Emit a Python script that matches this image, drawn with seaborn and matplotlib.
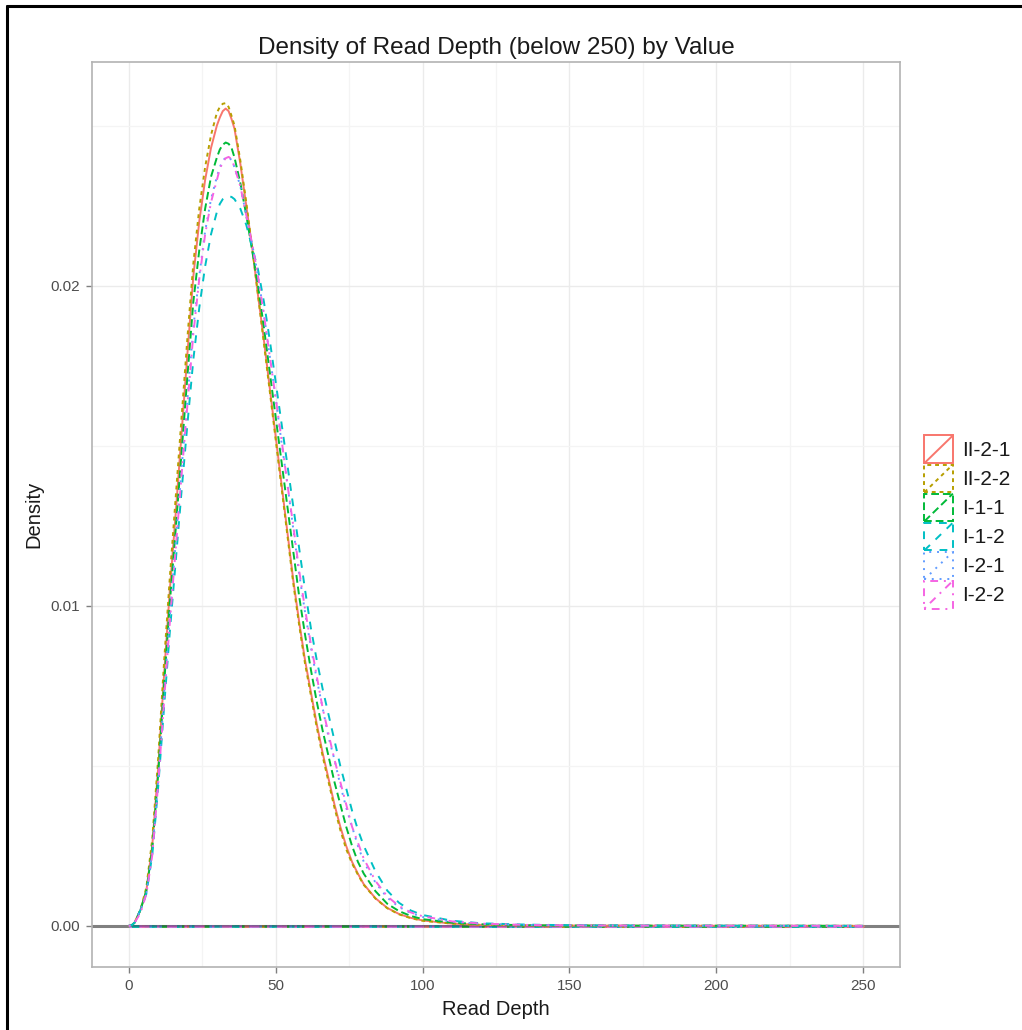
import numpy as np
import pandas as pd
import matplotlib
matplotlib.use("Agg")
import matplotlib.pyplot as plt
import seaborn as sns
from matplotlib.lines import Line2D
from matplotlib.patches import Rectangle
from matplotlib.legend_handler import HandlerBase

# ---------------- data ----------------
read_depth = [0, 1, 2, 4, 6, 8, 10, 12, 14, 16, 18, 20, 22, 24, 26, 28, 30, 31, 32, 33, 34, 35, 36, 38,
              40, 42, 44, 46, 48, 50, 52, 54, 56, 58, 60, 62, 64, 66, 68, 70, 72, 74, 76, 78, 80, 84,
              88, 92, 96, 100, 110, 120, 135, 150, 175, 200, 225, 250]

dens_II_2_1 = [0, 0.00002, 0.0001, 0.0005, 0.0011, 0.0025, 0.0049, 0.0078, 0.0105, 0.0129, 0.0154, 0.0179,
               0.0203, 0.0220, 0.0233, 0.0243, 0.0250, 0.02525, 0.02545, 0.02553, 0.02545, 0.0252, 0.0249,
               0.0238, 0.0225, 0.0212, 0.0197, 0.0183, 0.0168, 0.0153, 0.0138, 0.0123, 0.0108, 0.0095,
               0.0083, 0.0073, 0.0063, 0.0054, 0.0046, 0.0038, 0.0031, 0.0025, 0.0020, 0.00163, 0.0013,
               0.00086, 0.00056, 0.00037, 0.00025, 0.00017, 0.00007, 0.00003, 0.000015, 0.00001,
               0.000005, 0.000003, 0.000002, 0]
dens_II_2_2 = [0, 0.00002, 0.0001, 0.0005, 0.0012, 0.0027, 0.0052, 0.0082, 0.0109, 0.0134, 0.0159, 0.0184,
               0.0207, 0.0224, 0.0237, 0.0247, 0.0254, 0.02558, 0.02568, 0.0257, 0.02558, 0.0253, 0.0250,
               0.0239, 0.0226, 0.0212, 0.0197, 0.0182, 0.0167, 0.0152, 0.0137, 0.0122, 0.0107, 0.0094,
               0.0082, 0.0072, 0.0062, 0.0053, 0.0045, 0.0037, 0.0030, 0.0024, 0.00195, 0.0016, 0.00128,
               0.00085, 0.00055, 0.00036, 0.00024, 0.00016, 0.00007, 0.00003, 0.000015, 0.00001,
               0.000005, 0.000003, 0.000002, 0]
dens_I_1_1 = [0, 0.00002, 0.0001, 0.0005, 0.0011, 0.0024, 0.0047, 0.0075, 0.0101, 0.0124, 0.0148, 0.0172,
              0.0195, 0.0211, 0.0224, 0.0234, 0.0240, 0.02425, 0.0244, 0.02447, 0.02443, 0.0243, 0.0240,
              0.0232, 0.0222, 0.0211, 0.0200, 0.0187, 0.0173, 0.0159, 0.0145, 0.0131, 0.0117, 0.0103,
              0.0091, 0.0080, 0.0070, 0.0061, 0.0053, 0.0045, 0.0038, 0.0031, 0.0025, 0.0020, 0.00163,
              0.00108, 0.00069, 0.00046, 0.00031, 0.00021, 0.0001, 0.00005, 0.00002, 0.00001,
              0.000006, 0.000004, 0.000002, 0]
dens_I_1_2 = [0, 0.00002, 0.0001, 0.0005, 0.0010, 0.0022, 0.0043, 0.0068, 0.0092, 0.0114, 0.0136, 0.0157,
              0.0177, 0.0193, 0.0206, 0.0216, 0.0223, 0.02255, 0.0227, 0.02277, 0.02279, 0.02277, 0.0227,
              0.0224, 0.0219, 0.0212, 0.0205, 0.0195, 0.0183, 0.0170, 0.0157, 0.0144, 0.0131, 0.0118,
              0.0105, 0.0093, 0.0083, 0.0074, 0.0066, 0.0058, 0.0050, 0.0043, 0.0036, 0.0030, 0.0025,
              0.0017, 0.0011, 0.00072, 0.00048, 0.00034, 0.00016, 0.00008, 0.00004, 0.00002,
              0.00001, 0.000006, 0.000003, 0]
dens_I_2_1 = [0, 0.00002, 0.0001, 0.0005, 0.0010, 0.0023, 0.0045, 0.0072, 0.0097, 0.0120, 0.0143, 0.0165,
              0.0187, 0.0203, 0.0217, 0.0227, 0.0234, 0.0237, 0.0239, 0.0240, 0.02402, 0.02392, 0.0237,
              0.0231, 0.0222, 0.0213, 0.0203, 0.0191, 0.0178, 0.0165, 0.0151, 0.0138, 0.0124, 0.0110,
              0.0098, 0.0087, 0.0077, 0.0068, 0.0059, 0.0052, 0.0044, 0.0037, 0.0031, 0.0025, 0.0020,
              0.00135, 0.00088, 0.00059, 0.0004, 0.00028, 0.00013, 0.00006, 0.00003, 0.000015,
              0.000008, 0.000005, 0.000003, 0]
dens_I_2_2 = [0, 0.00002, 0.0001, 0.0004, 0.0010, 0.0022, 0.0044, 0.0070, 0.0095, 0.0118, 0.0141, 0.0163,
              0.0185, 0.0202, 0.0216, 0.0226, 0.0233, 0.02365, 0.02385, 0.02398, 0.02402, 0.02395, 0.0237,
              0.0231, 0.0222, 0.0213, 0.0203, 0.0191, 0.0178, 0.0165, 0.0152, 0.0138, 0.0125, 0.0111,
              0.0099, 0.0088, 0.0078, 0.0068, 0.0060, 0.0052, 0.0045, 0.0038, 0.0031, 0.0026, 0.0021,
              0.0014, 0.00092, 0.00062, 0.00042, 0.0003, 0.00014, 0.00007, 0.00003, 0.000015,
              0.000008, 0.000005, 0.000003, 0]

sample_names = ["II-2-1", "II-2-2", "I-1-1", "I-1-2", "I-2-1", "I-2-2"]
sample_values = [dens_II_2_1, dens_II_2_2, dens_I_1_1, dens_I_1_2, dens_I_2_1, dens_I_2_2]

x_ticks = [0, 50, 100, 150, 200, 250]
x_minor = [25, 75, 125, 175, 225]
y_ticks = [0.00, 0.01, 0.02]
y_minor = [0.005, 0.015, 0.025]
y_ticklabels = ["0.00", "0.01", "0.02"]

title_text = "Density of Read Depth (below 250) by Value"
x_label = "Read Depth"
y_label = "Density"

# ---------------- styles ----------------
colors = ["#F8766D", "#B79F00", "#00BA38", "#00BFC4", "#619CFF", "#F564E3"]
dash_list = ["", (2, 2), (4, 2), (4, 4), (1, 3), (1, 3, 4, 3)]
palette = dict(zip(sample_names, colors))
dashes = dict(zip(sample_names, dash_list))
LW = 1.4

df = pd.concat(
    [pd.DataFrame({"depth": read_depth, "density": v, "sample": n})
     for n, v in zip(sample_names, sample_values)],
    ignore_index=True,
)

sns.set_theme(style="white")
plt.rcParams["font.family"] = ["Liberation Sans", "DejaVu Sans"]

W, H = 1022, 1030
fig = plt.figure(figsize=(W / 100, H / 100), dpi=100)
fig.patch.set_facecolor("white")
L, R, T, B = 92, 900, 62, 967
ax = fig.add_axes([L / W, 1 - B / H, (R - L) / W, (B - T) / H])

# grey reference line at zero across the panel
ax.axhline(0, color="#808080", lw=2.2, zorder=1)

sns.lineplot(data=df, x="depth", y="density", hue="sample", style="sample",
             hue_order=sample_names, style_order=sample_names,
             palette=palette, dashes=dashes, linewidth=LW,
             estimator=None, sort=False, legend=False, ax=ax, zorder=3)

# baseline of each density outline (from min to max of the data)
for n in sample_names:
    sub = df[df["sample"] == n]
    ln = Line2D([sub["depth"].min(), sub["depth"].max()], [0, 0], color=palette[n], lw=1.8, zorder=2.5)
    if dashes[n]:
        ln.set_dashes(dashes[n])
    ax.add_line(ln)
ax.plot([min(read_depth), max(read_depth)], [0, 0], color="#3a3a4a", lw=1.2, alpha=0.55, zorder=2.6)

# limits like ggplot expansion
xmin, xmax = min(read_depth), max(read_depth)
ymax = max(max(v) for v in sample_values)
ax.set_xlim(xmin - 0.05 * (xmax - xmin), xmax + 0.05 * (xmax - xmin))
ax.set_ylim(0 - 0.05 * ymax, ymax + 0.05 * ymax)

ax.set_xticks(x_ticks)
ax.set_xticks(x_minor, minor=True)
ax.set_yticks(y_ticks)
ax.set_yticklabels(y_ticklabels)
ax.set_yticks(y_minor, minor=True)

ax.grid(which="major", color="#EBEBEB", lw=1.0)
ax.grid(which="minor", color="#F4F4F4", lw=0.9)
ax.set_axisbelow(True)

ax.tick_params(axis="both", which="major", length=4.5, width=1, color="#7f7f7f",
               labelsize=11, labelcolor="#4d4d4d", pad=4, bottom=True, left=True)
ax.tick_params(axis="both", which="minor", length=0)

for s in ax.spines.values():
    s.set_color("#b3b3b3")
    s.set_linewidth(1.2)

ax.set_xlabel(x_label, fontsize=14.5, color="#1a1a1a", labelpad=5)
ax.set_ylabel(y_label, fontsize=14.5, color="#1a1a1a", labelpad=5)
ax.set_title(title_text, fontsize=17.5, color="#1a1a1a", pad=6)


# legend with box keys + diagonal like ggplot density keys
class BoxKey(HandlerBase):
    def create_artists(self, legend, orig_handle, xdescent, ydescent, width, height, fontsize, trans):
        c = orig_handle.get_color()
        d = orig_handle._dash
        x0, y0 = -xdescent, -ydescent
        rect = Rectangle((x0 + 1, y0 + 0.5), width - 2, height - 1, facecolor="white", edgecolor=c,
                         lw=LW, transform=trans)
        diag = Line2D([x0 + 1, x0 + width - 1], [y0 + 0.5, y0 + height - 0.5], color=c, lw=LW,
                      transform=trans)
        if d:
            rect.set_linestyle((0, d))
            diag.set_dashes(d)
        return [rect, diag]


handles = []
for n in sample_names:
    h = Line2D([], [], color=palette[n], lw=LW)
    h._dash = dashes[n]
    handles.append(h)

leg = fig.legend(handles, sample_names, handler_map={Line2D: BoxKey()},
                 loc="center left", bbox_to_anchor=(923 / W, 1 - 522 / H),
                 frameon=False, fontsize=15, handlelength=1.5, handleheight=1.77,
                 labelspacing=0.0, handletextpad=0.4, borderpad=0, borderaxespad=0)
for t in leg.get_texts():
    t.set_color("#1a1a1a")

# outer frame of the screenshot (left and top edges)
fig.add_artist(Line2D([7 / W, 7 / W], [0, 1 - 6 / H], transform=fig.transFigure, color="black", lw=2.2))
fig.add_artist(Line2D([7 / W, 1], [1 - 6 / H, 1 - 6 / H], transform=fig.transFigure, color="black", lw=2.2))

fig.savefig("out.png", dpi=100, facecolor="white")
